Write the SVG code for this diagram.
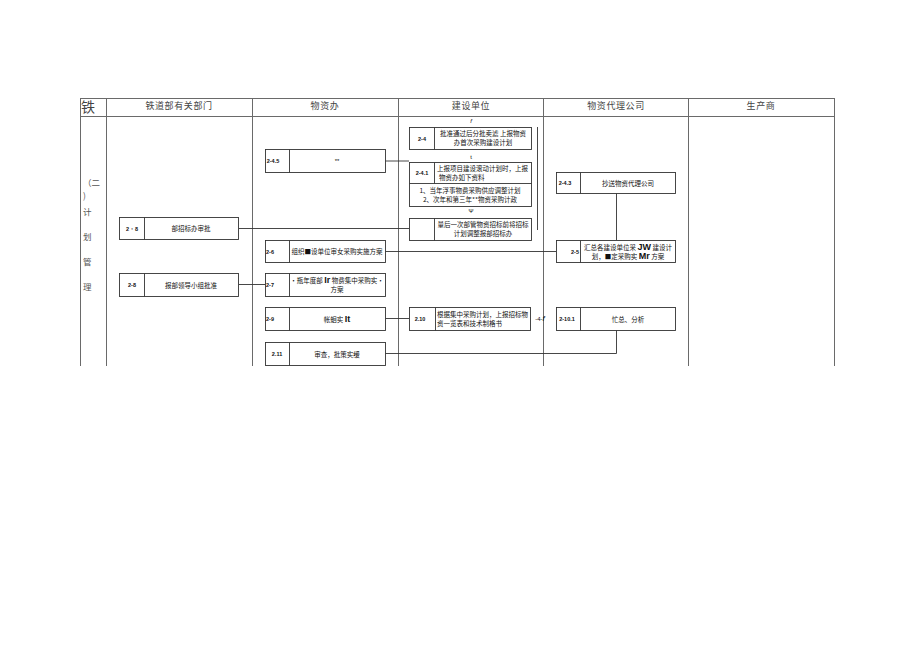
<svg xmlns="http://www.w3.org/2000/svg" width="920" height="651" viewBox="0 0 920 651">
<style>
.grid{stroke:#6a6a6a;stroke-width:1;fill:none}
.box{fill:#fff;stroke:#333;stroke-width:0.9}
.div{stroke:#333;stroke-width:0.9}
.con{stroke:#333;stroke-width:0.9;fill:none}
.hd{font-family:"Noto Sans CJK SC",sans-serif;font-size:9px;fill:#444;text-anchor:middle;letter-spacing:0.6px}
.lc{font-family:"Noto Sans CJK SC",sans-serif;font-size:8.5px;fill:#555}
.id{font-family:"Liberation Sans",Arial,sans-serif;font-size:5.5px;font-weight:bold;fill:#111;text-anchor:middle}
.tx{font-family:"Noto Sans CJK SC",sans-serif;font-size:6.5px;fill:#111;text-anchor:middle}
.tl{font-family:"Noto Sans CJK SC",sans-serif;font-size:6.5px;fill:#111}
.sm{font-family:"Liberation Sans",Arial,sans-serif;font-size:6px;fill:#111;text-anchor:middle}
.bg{font-family:"Liberation Sans",Arial,sans-serif;font-weight:bold;font-size:9px}
</style>
<rect width="920" height="651" fill="#fff"/>
<g id="table">
<line class="grid" x1="80" y1="98.5" x2="834" y2="98.5"/>
<line class="grid" x1="80" y1="116.5" x2="834" y2="116.5"/>
<line class="grid" x1="80.5" y1="98" x2="80.5" y2="366"/>
<line class="grid" x1="106.5" y1="98" x2="106.5" y2="366"/>
<line class="grid" x1="252.5" y1="98" x2="252.5" y2="366"/>
<line class="grid" x1="398.5" y1="98" x2="398.5" y2="366"/>
<line class="grid" x1="543.5" y1="98" x2="543.5" y2="366"/>
<line class="grid" x1="688.5" y1="98" x2="688.5" y2="366"/>
<line class="grid" x1="834.5" y1="98" x2="834.5" y2="366"/>
<text x="81" y="112" style="font-family:'Noto Sans CJK SC',sans-serif;font-size:14px;fill:#444">铁</text>
<text class="hd" x="179" y="109">铁道部有关部门</text>
<text class="hd" x="325" y="109">物资办</text>
<text class="hd" x="471" y="109">建设单位</text>
<text class="hd" x="616" y="109">物资代理公司</text>
<text class="hd" x="761" y="109">生产商</text>
<text class="lc" x="83" y="186">（二</text>
<text class="lc" x="83" y="199">)</text>
<text class="lc" x="83" y="215">计</text>
<text class="lc" x="83" y="240">划</text>
<text class="lc" x="83" y="265">管</text>
<text class="lc" x="83" y="290">理</text>
</g>
<g id="connectors">
<line class="con" x1="385" y1="161" x2="409" y2="161"/>
<line class="con" x1="239" y1="228.5" x2="409" y2="228.5"/>
<line class="con" x1="385" y1="251.5" x2="556" y2="251.5"/>
<line class="con" x1="239" y1="284.5" x2="265" y2="284.5"/>
<line class="con" x1="385" y1="318.5" x2="409" y2="318.5"/>
<polyline class="con" points="385,353.5 616.5,353.5 616.5,330"/>
<line class="con" x1="616.5" y1="193" x2="616.5" y2="240"/>
<line class="con" x1="537.5" y1="127" x2="537.5" y2="230"/>
<text class="sm" x="471" y="123" style="font-style:italic">f</text>
<text class="sm" x="471" y="159">t</text>
<text class="sm" x="471" y="213">Ψ</text>
<text class="sm" x="540" y="321">-4-<tspan font-style="italic" font-size="8">f</tspan></text>
</g>
<g id="n245">
<rect class="box" x="265.5" y="149.5" width="120" height="23"/>
<line class="div" x1="289.5" y1="149.5" x2="289.5" y2="172.5"/>
<text class="id" x="273" y="163">2-4.5</text>
<text class="sm" x="337" y="163">**</text>
</g>
<g id="n26">
<rect class="box" x="265.5" y="240.5" width="120" height="22"/>
<line class="div" x1="289.5" y1="240.5" x2="289.5" y2="262.5"/>
<text class="id" x="270" y="253.5">2-6</text>
<text class="tx" x="337" y="254">组织■设单位审女采购实施方案</text>
</g>
<g id="n27">
<rect class="box" x="265.5" y="273.5" width="120" height="23"/>
<line class="div" x1="289.5" y1="273.5" x2="289.5" y2="296.5"/>
<text class="id" x="270" y="287">2-7</text>
<text class="tx" x="337" y="283">·瓶年度部 <tspan class="bg" font-size="7">Ir</tspan> 物费集中采购实·</text>
<text class="tx" x="337" y="292">方案</text>
</g>
<g id="n29">
<rect class="box" x="265.5" y="307.5" width="120" height="23"/>
<line class="div" x1="289.5" y1="307.5" x2="289.5" y2="330.5"/>
<text class="id" x="270" y="321">2-9</text>
<text class="tx" x="337" y="321.5">帐蛔实 <tspan class="bg" font-size="8">It</tspan></text>
</g>
<g id="n211">
<rect class="box" x="265.5" y="342.5" width="120" height="23"/>
<line class="div" x1="289.5" y1="342.5" x2="289.5" y2="365.5"/>
<text class="id" x="277" y="356">2.11</text>
<text class="tx" x="337" y="356.5">审查，批策实缓</text>
</g>
<g id="n28a">
<rect class="box" x="119.5" y="217.5" width="119" height="22"/>
<line class="div" x1="144.5" y1="217.5" x2="144.5" y2="239.5"/>
<text class="id" x="132" y="230.5">2・8</text>
<text class="tx" x="191" y="231">部招标办审批</text>
</g>
<g id="n28b">
<rect class="box" x="119.5" y="273.5" width="119" height="23"/>
<line class="div" x1="144.5" y1="273.5" x2="144.5" y2="296.5"/>
<text class="id" x="132" y="287">2-8</text>
<text class="tx" x="191" y="287.5">报部领导小组批准</text>
</g>
<g id="n24">
<rect class="box" x="409.5" y="127.5" width="122" height="22"/>
<line class="div" x1="434.5" y1="127.5" x2="434.5" y2="149.5"/>
<text class="id" x="422" y="140.5">2-4</text>
<text class="tx" x="483" y="136">批准通过后分批卖滤  上报物资</text>
<text class="tx" x="483" y="145">办首次采购建设计划</text>
</g>
<g id="n241">
<rect class="box" x="409.5" y="162.5" width="122" height="44"/>
<line class="div" x1="409.5" y1="183.5" x2="531.5" y2="183.5"/>
<line class="div" x1="434.5" y1="162.5" x2="434.5" y2="183.5"/>
<text class="id" x="422" y="175">2-4.1</text>
<text class="tl" x="437" y="171">上报项目建设滚动计划时，上报</text>
<text class="tl" x="439" y="180">物资办如下资料</text>
<text class="tx" x="470" y="193">1、当年浮事物费采购供应调整计划</text>
<text class="tx" x="470" y="202">2、次年和第三年**物资采购计政</text>
</g>
<g id="n24last">
<rect class="box" x="409.5" y="218.5" width="122" height="22"/>
<line class="div" x1="434.5" y1="218.5" x2="434.5" y2="240.5"/>
<text class="tx" x="483" y="227">量后一次部管物资招标前将招标</text>
<text class="tx" x="483" y="236">计划调整报部招标办</text>
</g>
<g id="n210">
<rect class="box" x="409.5" y="307.5" width="121" height="23"/>
<line class="div" x1="435.5" y1="307.5" x2="435.5" y2="330.5"/>
<text class="id" x="420" y="321">2.10</text>
<text class="tl" x="437" y="316.5" font-size="6.3">根据集中采购计划，上报招标物</text>
<text class="tl" x="437" y="325.5" font-size="6.3">资一览表和技术制格书</text>
</g>
<g id="n243">
<rect class="box" x="556.5" y="172.5" width="119" height="21"/>
<line class="div" x1="580.5" y1="172.5" x2="580.5" y2="193.5"/>
<text class="id" x="565" y="185">2-4.3</text>
<text class="tx" x="628" y="185.5">抄送物资代理公司</text>
</g>
<g id="n25">
<rect class="box" x="556.5" y="240.5" width="119" height="22"/>
<line class="div" x1="580.5" y1="240.5" x2="580.5" y2="262.5"/>
<text class="id" x="575" y="253.5">2-5</text>
<text class="tx" x="628" y="249.5">汇总各建设单位采 <tspan class="bg">JW</tspan> 建设计</text>
<text class="tx" x="628" y="259">划，■定采购实 <tspan class="bg">Mr</tspan> 方案</text>
</g>
<g id="n2101">
<rect class="box" x="556.5" y="307.5" width="119" height="23"/>
<line class="div" x1="580.5" y1="307.5" x2="580.5" y2="330.5"/>
<text class="id" x="567" y="321">2-10.1</text>
<text class="tx" x="628" y="321.5">忙总、分析</text>
</g>
</svg>
